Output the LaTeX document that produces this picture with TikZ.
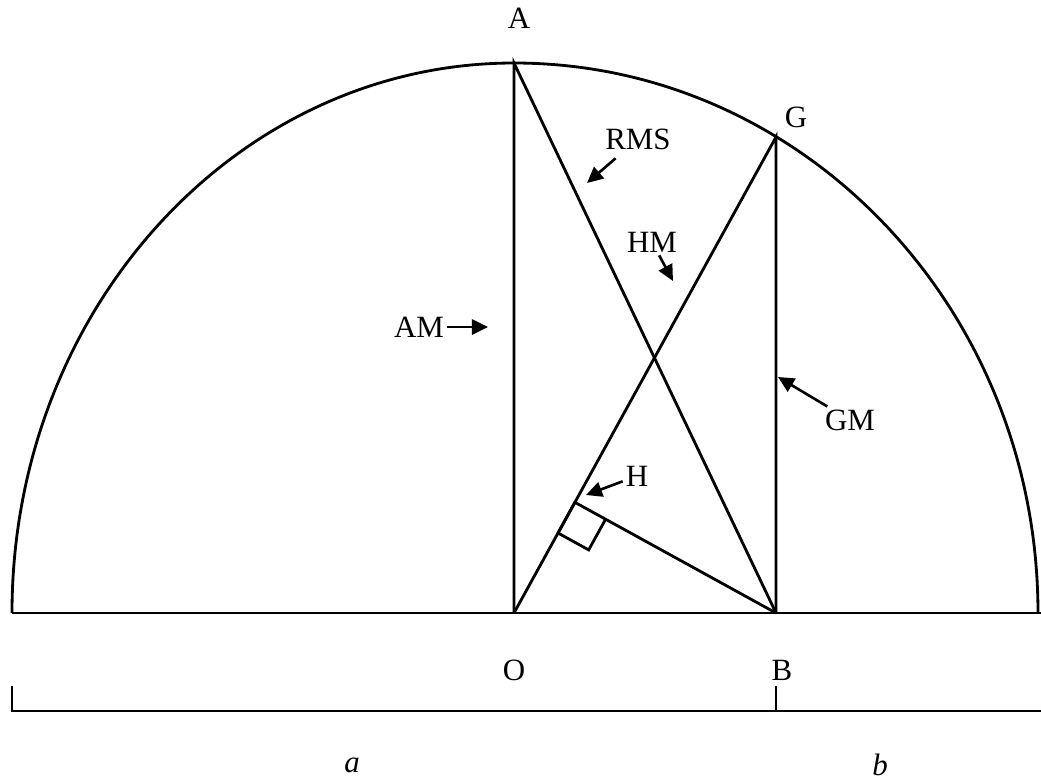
\documentclass[tikz,border=0pt]{standalone}
\usepackage{fontspec}
\setmainfont{Liberation Serif}
\usetikzlibrary{arrows.meta,calc}

\begin{document}
\begin{tikzpicture}[x=0.01cm, y=-0.01cm, line width=0.8pt,
  font=\fontsize{8.8}{10}\selectfont,
  ptlabel/.style={inner sep=1pt},
  meanlabel/.style={inner sep=0.5pt},
  arrow/.style={line width=0.75pt, -{Triangle[length=1.6mm,width=1.5mm]}}]
\useasboundingbox (0,0) rectangle (1041,778);
% points of the construction
\coordinate (L) at (12,613);
\coordinate (R) at (1041,613);
\coordinate (O) at (514,613);
\coordinate (A) at (514,63);
\coordinate (B) at (776,613);
\coordinate (G) at (776,137);
\coordinate (H) at ($(O)!(B)!(G)$);
% half circle on the base
\draw (L) arc[start angle=180, end angle=270, x radius=502, y radius=550]
          arc[start angle=270, end angle=360, x radius=524, y radius=550];
\draw (L) -- (R);
\draw (O) -- (A) -- (B);
\draw (O) -- (G) -- (B);
\draw (B) -- (H);
\draw (H) -- ($(H)!0.35cm!(O)$) -- ($(H)!0.35cm!(O)!0.35cm!90:(O)$) -- ($(H)!0.35cm!(B)$);
% scale a + b
\draw (12,686) -- (12,711) -- (1041,711);
\coordinate (Bt) at (776,686);
\draw (Bt) -- (776,711);
% point labels
\node[ptlabel] (lA) at (519,18) {A};
\node[ptlabel] (lG) at (796,117) {G};
\node[ptlabel] (lO) at (514,670) {O};
\node[ptlabel] (lB) at (782,670) {B};
\node[ptlabel, font=\fontsize{8.8}{10}\selectfont\itshape] (la) at (352,765) {a};
\node[ptlabel, font=\fontsize{8.8}{10}\selectfont\itshape] (lb) at (880,765) {b};
% the means
\node[meanlabel] (rms) at (638,139) {RMS};
\node[meanlabel] (hm) at (652,242) {HM};
\node[meanlabel] (am) at (419,327) {AM};
\node[meanlabel] (gm) at (850,420) {GM};
\node[meanlabel] (hlbl) at (637,476) {H};
\coordinate (rmstip) at (587,183);
\coordinate (hmtip) at (673,281);
\coordinate (amtip) at (488,327);
\coordinate (gmtip) at (778,377);
\coordinate (htip) at (586,495);
\draw[arrow, shorten <=2.5pt] (rms) -- (rmstip);
\draw[arrow] (hm) -- (hmtip);
\draw[arrow] (am) -- (amtip);
\draw[arrow] (gm) -- (gmtip);
\draw[arrow] (hlbl) -- (htip);
\end{tikzpicture}
\end{document}
